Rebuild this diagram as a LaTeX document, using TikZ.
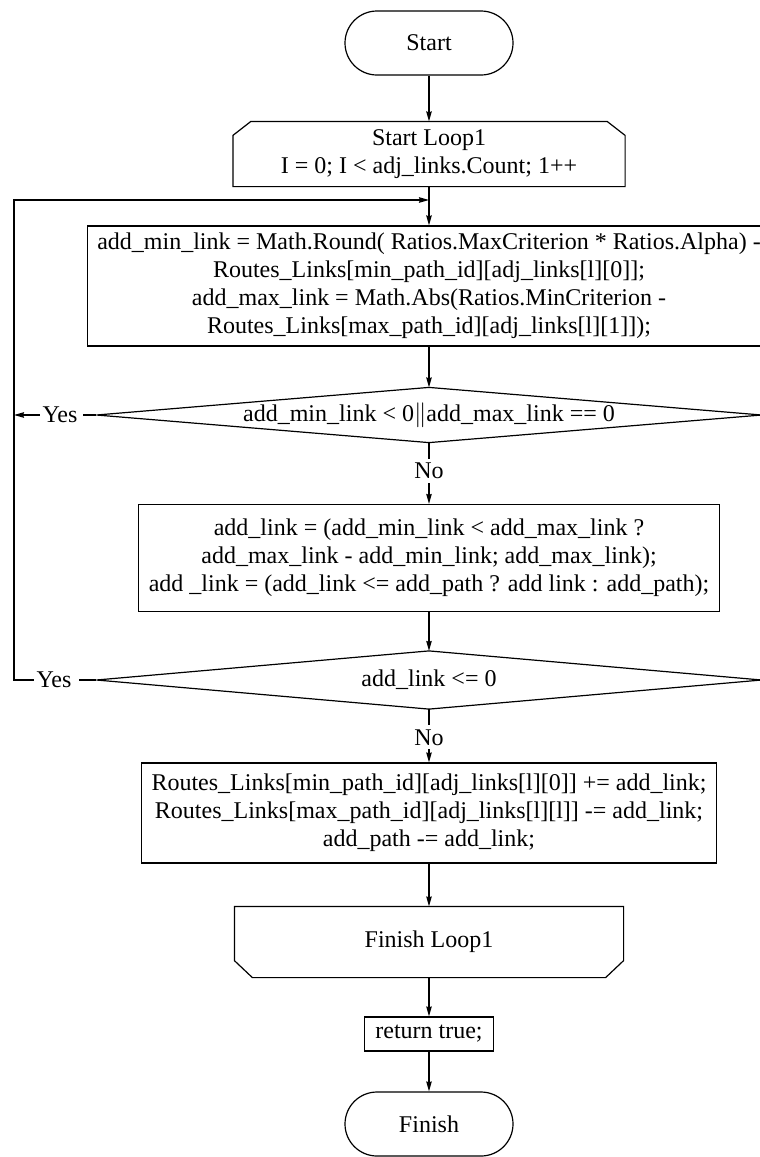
\documentclass[tikz,border=0pt]{standalone}
\usepackage{fontspec}
\setmainfont{Liberation Serif}
\usetikzlibrary{arrows.meta,calc}

\begin{document}
\begin{tikzpicture}[x=1pt,y=-1pt,
  font=\fontsize{24}{28}\selectfont,
  line width=1.2pt,
  every node/.style={align=center},
  flow/.style={-{Stealth[length=10pt,width=5.5pt,inset=1pt]}},
  terminal/.style={draw,rounded corners=32pt,minimum width=168pt,minimum height=64pt},
  procbox/.style={draw,inner xsep=10pt,inner ysep=0pt},
  plainbox/.style={inner sep=0pt},
  answer/.style={fill=white,inner xsep=2pt,inner ysep=4pt}
]
\useasboundingbox (0,0) rectangle (760,1157);
\clip (0,0) rectangle (760,1157);

% terminals and blocks
\node[terminal] (start) at (429,43) {Start};

\node[plainbox,minimum width=391pt,minimum height=64pt] (loop) at (429,154)
  {Start Loop1\\I = 0; I < adj\_links.Count; 1++};
\draw (loop.south west) -- ($(loop.north west)+(0,14)$) -- ($(loop.north west)+(18,0)$)
  -- ($(loop.north east)+(-18,0)$) -- ($(loop.north east)+(0,14)$) -- (loop.south east) -- cycle;

\node[procbox,minimum height=120pt] (p1) at (429,286)
  {add\_min\_link = Math.Round( Ratios.MaxCriterion * Ratios.Alpha) -\\
   Routes\_Links[min\_path\_id][adj\_links[l][0]];\\
   add\_max\_link = Math.Abs(Ratios.MinCriterion -\\
   Routes\_Links[max\_path\_id][adj\_links[l][1]]);};

\node[plainbox,minimum width=664pt,minimum height=54pt] (d1) at (429,415)
  {add\_min\_link < 0$\|$add\_max\_link == 0};
\draw (d1.west) -- (d1.north) -- (d1.east) -- (d1.south) -- cycle;

\node[procbox,minimum height=107pt] (p2) at (429,558)
  {add\_link = (add\_min\_link < add\_max\_link ?\\
   add\_max\_link - add\_min\_link; add\_max\_link);\\
   add \_link = (add\_link <= add\_path ? add link : add\_path);};

\node[plainbox,minimum width=664pt,minimum height=57pt] (d2) at (429,680)
  {add\_link <= 0};
\draw (d2.west) -- (d2.north) -- (d2.east) -- (d2.south) -- cycle;

\node[procbox,minimum height=100pt] (p3) at (429,813)
  {Routes\_Links[min\_path\_id][adj\_links[l][0]] += add\_link;\\
   Routes\_Links[max\_path\_id][adj\_links[l][l]] -= add\_link;\\
   add\_path -= add\_link;};

\node[plainbox,minimum width=388pt,minimum height=70pt] (fin) at (429,942) {Finish Loop1};
\draw (fin.north west) -- (fin.north east) -- ($(fin.south east)+(0,-17)$)
  -- ($(fin.south east)+(-18,0)$) -- ($(fin.south west)+(18,0)$)
  -- ($(fin.south west)+(0,-17)$) -- cycle;

\node[procbox,inner xsep=11pt,minimum height=34pt] (ret) at (429,1034) {return true;};

\node[terminal] (finish) at (429,1124) {Finish};

% loop-back route
\coordinate (j) at (429,200);
\coordinate (l1) at (14,415);
\coordinate (l2) at (14,680);
\coordinate (lt) at (14,200);

\node[inner xsep=2pt] (yes1) at (60,415) {Yes};
\node[inner xsep=2pt] (yes2) at (54,680) {Yes};

% connectors
\draw[flow] (start) -- (loop);
\draw[flow] (loop) -- (p1);
\draw[flow] (p1) -- (d1.north);
\draw[flow] (d1.south) -- node[answer,pos=0.46] {No} (p2);
\draw[flow] (p2) -- (d2.north);
\draw[flow] (d2.south) -- node[answer,pos=0.53] {No} (p3);
\draw[flow] (p3) -- (fin);
\draw[flow] (fin) -- (ret);
\draw[flow] (ret) -- (finish);

\draw (d1.west) -- ($(yes1.east)+(3,0)$);
\draw[flow] (yes1.west) -- (l1);
\draw (d2.west) -- ($(yes2.east)+(5,0)$);
\draw[flow] (yes2.west) -- (l2) -- (lt) -- (j);
\end{tikzpicture}
\end{document}
